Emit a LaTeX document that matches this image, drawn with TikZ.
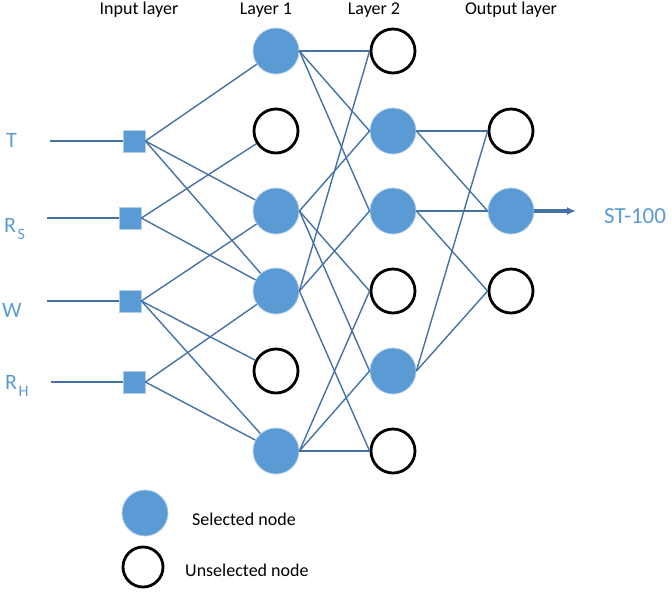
\documentclass[tikz,border=0pt]{standalone}
\usepackage{fontspec}
\setmainfont{Carlito}
\usetikzlibrary{arrows.meta}
\definecolor{nodeblue}{HTML}{5B9BD5}
\definecolor{edgeblue}{HTML}{4472A4}
\definecolor{labelblue}{HTML}{5B9BD5}
\definecolor{glow}{HTML}{B4CCE6}
\begin{document}
\begin{tikzpicture}[x=1pt,y=-1pt,
 sel/.style={circle,fill=nodeblue,draw=glow,line width=0.8pt,minimum size=46pt,inner sep=0pt},
 unsel/.style={circle,draw=black,line width=2.8pt,fill=white,minimum size=44pt,inner sep=0pt},
 inp/.style={rectangle,fill=nodeblue,draw=glow,line width=0.8pt,minimum size=22pt,inner sep=0pt},
 conn/.style={draw=edgeblue,line width=1.4pt},
 outarrow/.style={draw=edgeblue,line width=3.4pt,-{Latex[length=9pt,width=8pt]}},
 head/.style={font=\fontsize{18}{20}\selectfont,anchor=base,inner sep=0pt},
 side/.style={font=\fontsize{22}{24}\selectfont,text=labelblue,anchor=base west,inner sep=0pt},
 leg/.style={font=\fontsize{18}{20}\selectfont,anchor=base west,inner sep=0pt}]
\useasboundingbox (0,0) rectangle (672,598);
% headers
\node[head] (h0) at (139,14) {Input layer};
\node[head] (h1) at (266,14) {Layer 1};
\node[head] (h2) at (374,14) {Layer 2};
\node[head] (h3) at (511,14) {Output layer};
% side labels
\node[side] (lt) at (6,147) {T};
\node[side] (lrs) at (4,232) {R\kern1.5pt\raisebox{-0.35em}{\fontsize{16}{17}\selectfont S}};
\node[side] (lw) at (2,317) {W};
\node[side] (lrh) at (5,389) {R\kern1.5pt\raisebox{-0.35em}{\fontsize{16}{17}\selectfont H}};
\node[side,font=\fontsize{23}{25}\selectfont] (out) at (604,223) {ST-100};
% input nodes
\node[inp] (i1) at (134,141) {};
\node[inp] (i2) at (130,218) {};
\node[inp] (i3) at (130,301) {};
\node[inp] (i4) at (134,382) {};
\coordinate (s1) at (50,141);
\coordinate (s2) at (47,218);
\coordinate (s3) at (47,301);
\coordinate (s4) at (51,382);
% layer 1
\node[sel] (a1) at (276,51) {};
\node[unsel] (a2) at (276,131) {};
\node[sel] (a3) at (276,211) {};
\node[sel] (a4) at (276,291) {};
\node[unsel] (a5) at (276,371) {};
\node[sel] (a6) at (276,451) {};
% layer 2
\node[unsel] (b1) at (393,51) {};
\node[sel] (b2) at (393,131) {};
\node[sel] (b3) at (393,211) {};
\node[unsel] (b4) at (393,291) {};
\node[sel] (b5) at (393,371) {};
\node[unsel] (b6) at (393,451) {};
% output
\node[unsel] (c1) at (511,131) {};
\node[sel] (c2) at (511,211) {};
\node[unsel] (c3) at (511,291) {};
\coordinate (arrowend) at (576,211);
% legend
\node[sel] (ls) at (145,513) {};
\node[unsel,minimum size=40pt] (lu) at (143,567) {};
\node[leg] (lst) at (192,525) {Selected node};
\node[leg] (lut) at (185,576) {Unselected node};
% input lines
\draw[conn] (s1) -- (i1.west);
\draw[conn] (s2) -- (i2.west);
\draw[conn] (s3) -- (i3.west);
\draw[conn] (s4) -- (i4.west);
% input -> layer 1
\draw[conn] (i1.east) -- (a1);
\draw[conn] (i1.east) -- (a3);
\draw[conn] (i1.east) -- (a4);
\draw[conn] (i2.east) -- (a2);
\draw[conn] (i2.east) -- (a4);
\draw[conn] (i3.east) -- (a3);
\draw[conn] (i3.east) -- (a5);
\draw[conn] (i3.east) -- (a6);
\draw[conn] (i4.east) -- (a4);
\draw[conn] (i4.east) -- (a6);
% layer 1 -> layer 2
\draw[conn] (a1.east) -- (b1.west);
\draw[conn] (a1.east) -- (b2.west);
\draw[conn] (a1.east) -- (b3.west);
\draw[conn] (a3.east) -- (b2.west);
\draw[conn] (a3.east) -- (b4.west);
\draw[conn] (a3.east) -- (b5.west);
\draw[conn] (a4.east) -- (b1.west);
\draw[conn] (a4.east) -- (b3.west);
\draw[conn] (a4.east) -- (b6.west);
\draw[conn] (a6.east) -- (b4.west);
\draw[conn] (a6.east) -- (b5.west);
\draw[conn] (a6.east) -- (b6.west);
% layer 2 -> output
\draw[conn] (b2.east) -- (c1.west);
\draw[conn] (b2.east) -- (c2.west);
\draw[conn] (b3.east) -- (c2.west);
\draw[conn] (b3.east) -- (c3.west);
\draw[conn] (b5.east) -- (c1.west);
\draw[conn] (b5.east) -- (c3.west);
% output arrow
\draw[outarrow] (c2.east) -- (arrowend);
\end{tikzpicture}
\end{document}
